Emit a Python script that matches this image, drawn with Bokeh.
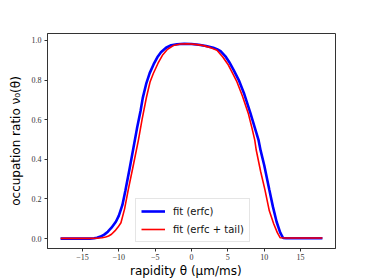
from bokeh.plotting import figure
from bokeh.models import Range1d, FixedTicker, Legend, LegendItem, ColumnDataSource
from bokeh.embed import file_html
from bokeh.resources import INLINE

# Data
theta_erfc = [-18, -16, -14, -13.4, -13, -12.5, -12, -11.5, -11, -10.4, -10, -9.5, -9.1,
              -8.5, -8.0, -7.5, -7.0, -6.7, -6.2, -5.75, -5.2, -4.7, -4.2, -3.5, -2.8,
              -2, -1, 0, 1, 2, 3, 3.5, 4, 4.66, 5.2, 5.8, 6.5, 7.2, 8.1, 8.7, 9.2,
              9.5, 10, 10.7, 11.2, 11.7, 12.2, 12.6, 13, 14, 16, 18]
nu_erfc = [0.0, 0.0, 0.0, 0.002, 0.004, 0.01, 0.02, 0.035, 0.055, 0.085, 0.115, 0.17, 0.24,
           0.355, 0.455, 0.555, 0.645, 0.71, 0.785, 0.835, 0.88, 0.915, 0.94, 0.963, 0.976,
           0.981, 0.983, 0.982, 0.978, 0.972, 0.963, 0.956, 0.946, 0.92, 0.89, 0.85, 0.8, 0.735,
           0.633, 0.56, 0.5, 0.445, 0.37, 0.246, 0.16, 0.085, 0.03, 0.003, 0.002, 0.002, 0.002, 0.002]

theta_tail = [-18, -16, -14, -13, -12.3, -11.8, -11.4, -11, -10.5, -10.1, -9.7, -9.2, -8.7,
              -8.0, -7.3, -6.8, -6.2, -5.7, -5.25, -4.6, -4.0, -3.3, -2.5, -1.5, -0.5,
              0.5, 1.5, 2.5, 3.5, 4.3, 5.0, 5.5, 6.2, 7.0, 7.8, 8.3, 8.7, 8.9, 9.5,
              10.1, 10.7, 11.3, 11.8, 12.2, 13, 14, 16, 18]
nu_tail = [0.001, 0.001, 0.001, 0.002, 0.004, 0.008, 0.013, 0.022, 0.04, 0.058, 0.08, 0.15, 0.246,
           0.37, 0.497, 0.6, 0.712, 0.79, 0.833, 0.885, 0.925, 0.955, 0.974, 0.982, 0.983,
           0.98, 0.975, 0.965, 0.95, 0.916, 0.88, 0.845, 0.795, 0.72, 0.633, 0.56, 0.497, 0.447, 0.34,
           0.246, 0.14, 0.075, 0.03, 0.004, 0.003, 0.003, 0.003, 0.003]

x_ticks = [-15, -10, -5, 0, 5, 10, 15]
y_ticks = [0.0, 0.2, 0.4, 0.6, 0.8, 1.0]

p = figure(width=373, height=280, output_backend="svg", toolbar_location=None,
           x_range=Range1d(-19.8, 19.8), y_range=Range1d(-0.05, 1.035),
           min_border_left=47, min_border_right=38, min_border_top=33, min_border_bottom=31)

p.background_fill_color = "white"
p.border_fill_color = "white"
p.outline_line_color = "#333333"
p.outline_line_width = 1
p.xgrid.visible = False
p.ygrid.visible = False

src1 = ColumnDataSource(dict(x=theta_erfc, y=nu_erfc))
src2 = ColumnDataSource(dict(x=theta_tail, y=nu_tail))
r1 = p.line("x", "y", source=src1, line_color="#0000ff", line_width=2.6)
r2 = p.line("x", "y", source=src2, line_color="#ff0000", line_width=1.6)

for ax in (p.xaxis[0], p.yaxis[0]):
    ax.axis_line_color = "#333333"
    ax.major_tick_line_color = "#333333"
    ax.major_tick_out = 3
    ax.major_tick_in = 0
    ax.minor_tick_line_color = None
    ax.major_label_text_font = "Liberation Serif"
    ax.major_label_text_font_size = "8px"
    ax.major_label_text_color = "#333333"
    ax.axis_label_text_font = "DejaVu Sans"
    ax.axis_label_text_font_size = "12px"
    ax.axis_label_text_font_style = "normal"
    ax.axis_label_text_color = "black"

p.xaxis[0].ticker = FixedTicker(ticks=x_ticks)
p.yaxis[0].ticker = FixedTicker(ticks=y_ticks)
p.xaxis[0].major_label_overrides = {t: ("\u2212" + str(abs(t)) if t < 0 else str(t)) for t in x_ticks}
p.yaxis[0].major_label_overrides = {t: f"{t:.1f}" for t in y_ticks}
p.xaxis[0].major_label_standoff = 2
p.yaxis[0].major_label_standoff = 3
p.xaxis[0].axis_label = "rapidity θ    (μm/ms)"
p.yaxis[0].axis_label = "occupation ratio ν₀(θ)"
p.xaxis[0].axis_label_standoff = 1
p.yaxis[0].axis_label_standoff = 6

legend = Legend(items=[LegendItem(label="fit (erfc)", renderers=[r1]),
                       LegendItem(label="fit (erfc + tail)", renderers=[r2])],
                location=(88, 6))
legend.label_text_font = "DejaVu Sans"
legend.label_text_font_size = "10px"
legend.label_text_color = "#111111"
legend.glyph_width = 24
legend.glyph_height = 14
legend.label_height = 14
legend.label_standoff = 8
legend.spacing = 4
legend.padding = 5
legend.margin = 0
legend.border_line_color = "#cccccc"
legend.border_line_width = 1
legend.background_fill_alpha = 0.8
p.add_layout(legend)

open("out.html", "w").write(file_html(p, INLINE))
